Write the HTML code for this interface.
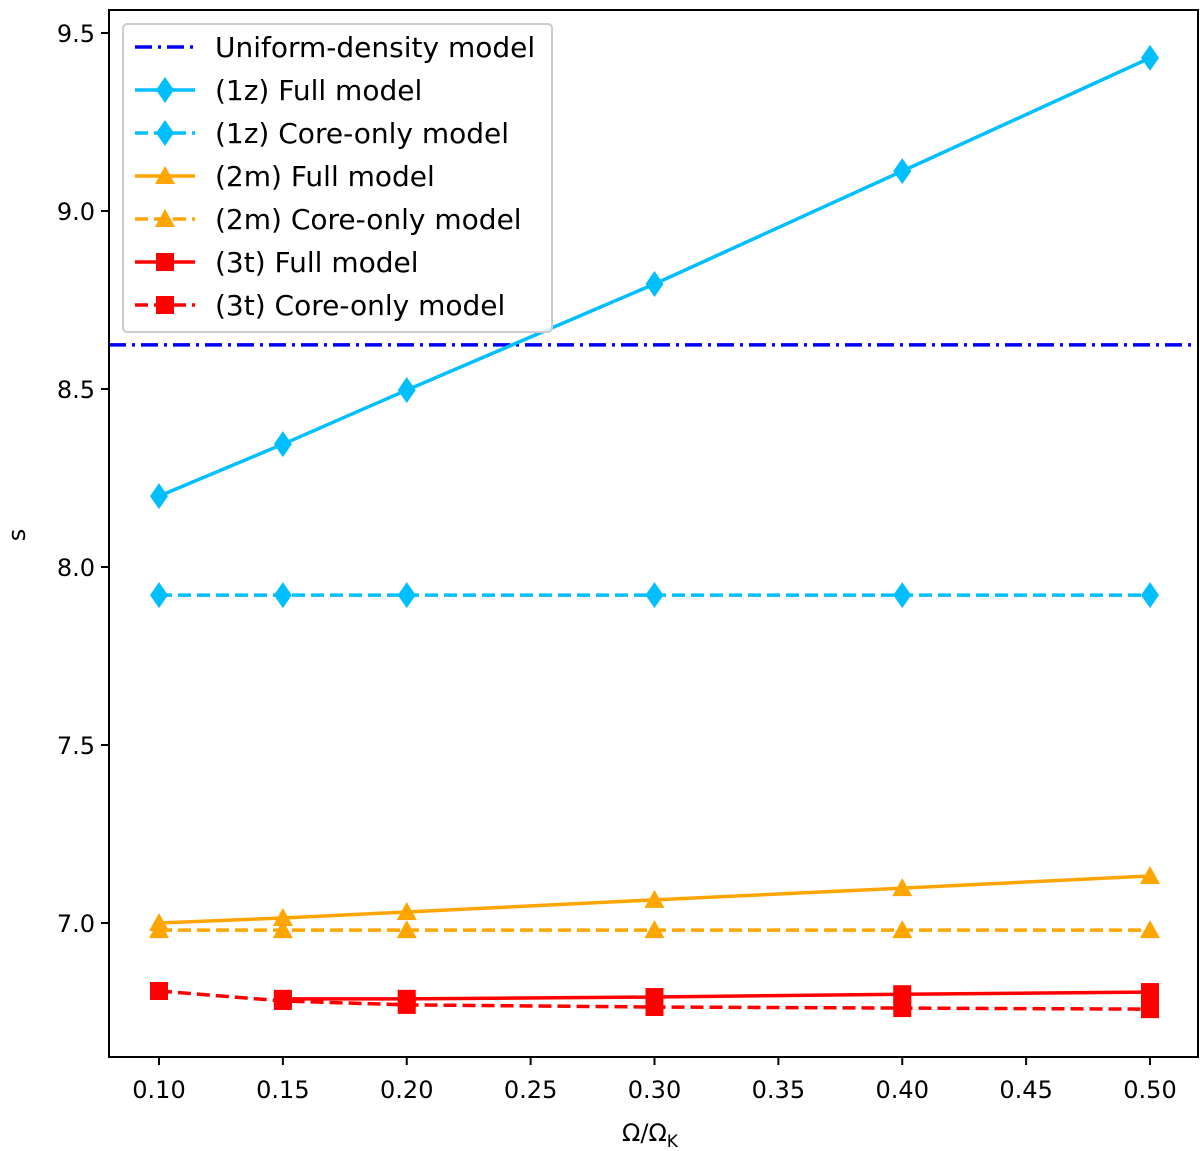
<!DOCTYPE html>
<html><head><meta charset="utf-8"><style>
html,body{margin:0;padding:0;background:#fff;}
svg{display:block;font-family:"DejaVu Sans","Liberation Sans",sans-serif;}
</style></head><body>
<svg id="chart" width="1200" height="1151">
<g id="plot"></g>
<g id="axes"></g>
<g id="legend"></g>
</svg>
<script>
const xVals = [0.10, 0.15, 0.20, 0.30, 0.40, 0.50];
const uniformVal = 8.624;
const full1z = [8.199, 8.345, 8.497, 8.795, 9.112, 9.43];
const core1z = [7.921, 7.921, 7.921, 7.921, 7.921, 7.921];
const full2m = [7.0, 7.014, 7.031, 7.065, 7.098, 7.132];
const core2m = [6.98, 6.98, 6.98, 6.98, 6.98, 6.98];
const full3t = [null, 6.787, 6.787, 6.792, 6.80, 6.806];
const core3t = [6.809, 6.781, 6.77, 6.764, 6.761, 6.758];
const xTicks = [0.10,0.15,0.20,0.25,0.30,0.35,0.40,0.45,0.50];
const yTicks = [7.0,7.5,8.0,8.5,9.0,9.5];

const NS='http://www.w3.org/2000/svg';
const L=109,R=1198,T=10,B=1057;
const sx=v=>159+(v-0.1)*2477.5;
const sy=v=>923-(v-7)*356;
function mk(tag,attrs,parent){const e=document.createElementNS(NS,tag);for(const k in attrs)e.setAttribute(k,attrs[k]);parent.appendChild(e);return e;}
const plot=document.getElementById('plot'),axes=document.getElementById('axes'),leg=document.getElementById('legend');

function marker(type,x,y,color,parent){
  let e;
  if(type==='d') e=mk('polygon',{points:`${x},${y-13} ${x+9},${y} ${x},${y+13} ${x-9},${y}`,fill:color},parent);
  else if(type==='^') e=mk('polygon',{points:`${x},${y-10} ${x+10},${y+8} ${x-10},${y+8}`,fill:color},parent);
  else e=mk('rect',{x:x-9,y:y-9,width:18,height:18,fill:color},parent);
  return e;
}
const series=[
 {name:'(1z) Full model',vals:full1z,color:'#00bfff',dash:'',m:'d',id:'series-1z-full'},
 {name:'(1z) Core-only model',vals:core1z,color:'#00bfff',dash:'13,6',m:'d',id:'series-1z-core'},
 {name:'(2m) Full model',vals:full2m,color:'#ffa500',dash:'',m:'^',id:'series-2m-full'},
 {name:'(2m) Core-only model',vals:core2m,color:'#ffa500',dash:'13,6',m:'^',id:'series-2m-core'},
 {name:'(3t) Full model',vals:full3t,color:'#ff0000',dash:'',m:'s',id:'series-3t-full'},
 {name:'(3t) Core-only model',vals:core3t,color:'#ff0000',dash:'13,6',m:'s',id:'series-3t-core'}
];
const ul=mk('line',{x1:L,x2:R,y1:sy(uniformVal),y2:sy(uniformVal),stroke:'#0000ff','stroke-width':3.5,'stroke-dasharray':'17,6,3,6'},plot);


series.forEach(s=>{
  const g=mk('g',{},plot);
  
  
  const pts=[];
  s.vals.forEach((v,i)=>{if(v!==null)pts.push(sx(xVals[i])+','+sy(v));});
  const pl=mk('polyline',{points:pts.join(' '),fill:'none',stroke:s.color,'stroke-width':3.5,'stroke-dasharray':s.dash},g);
  
  
  s.vals.forEach((v,i)=>{if(v===null)return;
    const m=marker(s.m,sx(xVals[i]),sy(v),s.color,g);
    
    
  });
});
const fr=mk('rect',{x:L,y:T,width:R-L,height:B-T,fill:'none',stroke:'#000','stroke-width':2},axes);


xTicks.forEach(v=>{
  const x=sx(v);
  mk('line',{x1:x,x2:x,y1:B,y2:B+8,stroke:'#000','stroke-width':2},axes);
  const t=mk('text',{x:x,y:B+41,'text-anchor':'middle','font-size':24,fill:'#000'},axes);
  t.textContent=v.toFixed(2);
  
  
});
yTicks.forEach(v=>{
  const y=sy(v);
  mk('line',{x1:L-8,x2:L,y1:y,y2:y,stroke:'#000','stroke-width':2},axes);
  const t=mk('text',{x:L-14,y:y+9,'text-anchor':'end','font-size':24,fill:'#000'},axes);
  t.textContent=v.toFixed(1);
  
  
});
const yl=mk('text',{x:0,y:0,transform:'translate(25,535) rotate(-90)','text-anchor':'middle','font-size':24},axes);
yl.textContent='s';


const xl=mk('text',{x:650,y:1141,'text-anchor':'middle','font-size':24},axes);
xl.innerHTML='Ω/Ω<tspan font-size="17" dy="6">K</tspan>';


const lb=mk('rect',{x:123,y:24,width:429,height:308,rx:4,fill:'#fff','fill-opacity':0.85,stroke:'#ccc','stroke-width':2},leg);


const entries=[{name:'Uniform-density model',color:'#0000ff',dash:'17,6,3,6',m:null}].concat(series);
entries.forEach((e,i)=>{
  const y=47+i*43;
  const g=mk('g',{},leg);
  
  
  mk('line',{x1:135,x2:195,y1:y,y2:y,stroke:e.color,'stroke-width':3.5,'stroke-dasharray':e.dash},g);
  if(e.m) marker(e.m,165,y,e.color,g);
  const t=mk('text',{x:215,y:y+10,'font-size':28,fill:'#000'},g);
  t.textContent=e.name;
});
</script>
</body></html>
